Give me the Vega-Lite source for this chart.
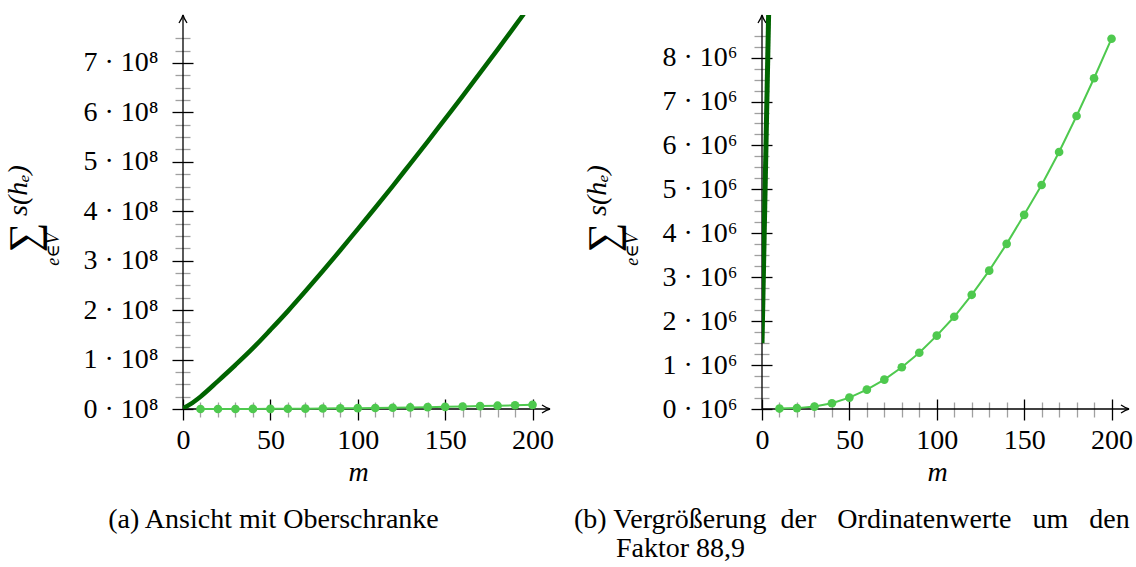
{
  "$schema": "https://vega.github.io/schema/vega-lite/v6.json",
  "background": "white",
  "padding": {"left": 3, "top": 12, "right": 0, "bottom": 0},
  "spacing": 212,
  "bounds": "flush",
  "config": {
    "view": {"stroke": null},
    "font": "Liberation Serif, Times New Roman, DejaVu Serif, serif",
    "axis": {"labelFont": "Liberation Serif, Times New Roman, DejaVu Serif, serif", "titleFont": "Liberation Serif, Times New Roman, DejaVu Serif, serif", "labelColor": "black", "titleColor": "black", "titleFontWeight": "normal", "grid": false, "domain": false, "labelFlush": false, "labelOverlap": false, "labelFontSize": 28},
    "title": {"font": "Liberation Serif, Times New Roman, DejaVu Serif, serif", "fontSize": 28, "fontWeight": "normal", "color": "black"}
  },
  "datasets": {
    "one": [{}],
    "upper": [
      {"m": 0, "v": 1500000}, {"m": 4, "v": 9400000}, {"m": 10, "v": 25000000}, {"m": 20, "v": 56500000},
      {"m": 30, "v": 89000000}, {"m": 40, "v": 123000000}, {"m": 50, "v": 160000000}, {"m": 60, "v": 198000000},
      {"m": 70, "v": 238000000}, {"m": 80, "v": 279000000}, {"m": 90, "v": 321000000}, {"m": 100, "v": 364000000},
      {"m": 110, "v": 407000000}, {"m": 120, "v": 451000000}, {"m": 130, "v": 496000000}, {"m": 140, "v": 541000000},
      {"m": 150, "v": 587000000}, {"m": 160, "v": 633000000}, {"m": 170, "v": 680000000}, {"m": 180, "v": 727000000},
      {"m": 190, "v": 775000000}, {"m": 195, "v": 799000000}
    ],
    "lower": [
      {"m": 10, "v": 10000}, {"m": 20, "v": 20000}, {"m": 30, "v": 55000}, {"m": 40, "v": 130000},
      {"m": 50, "v": 260000}, {"m": 60, "v": 440000}, {"m": 70, "v": 670000}, {"m": 80, "v": 950000},
      {"m": 90, "v": 1280000}, {"m": 100, "v": 1670000}, {"m": 110, "v": 2100000}, {"m": 120, "v": 2600000},
      {"m": 130, "v": 3150000}, {"m": 140, "v": 3760000}, {"m": 150, "v": 4420000}, {"m": 160, "v": 5100000},
      {"m": 170, "v": 5850000}, {"m": 180, "v": 6670000}, {"m": 190, "v": 7530000}, {"m": 200, "v": 8430000}
    ]
  },
  "hconcat": [
    {
      "width": 367, "height": 394,
      "title": {"text": "(a) Ansicht mit Oberschranke", "fontSize": 28, "fontWeight": "normal", "orient": "bottom", "anchor": "middle", "frame": "group", "dx": -93, "offset": 20},
      "resolve": {"axis": {"x": "independent", "y": "independent"}},
      "layer": [
        {"data": {"name": "one"}, "mark": {"type": "rule", "color": "black", "strokeWidth": 1.3},
         "encoding": {"y": {"datum": 0, "type": "quantitative", "scale": {"domain": [0, 797000000]}, "axis": null}}},
        {"data": {"name": "one"}, "mark": {"type": "rule", "color": "black", "strokeWidth": 1.3},
         "encoding": {"x": {"datum": 0, "type": "quantitative", "scale": {"domain": [0, 210]}, "axis": null}}},
        {"data": {"name": "one"}, "mark": {"type": "point", "shape": "M-1.6,-0.8 Q-0.6,-0.15 0,0 Q-0.6,0.15 -1.6,0.8", "filled": false, "stroke": "black", "strokeWidth": 1.3, "size": 100, "opacity": 1},
         "encoding": {"x": {"datum": 210, "type": "quantitative", "scale": {"domain": [0, 210]}, "axis": null}, "y": {"datum": 0, "type": "quantitative", "scale": {"domain": [0, 797000000]}, "axis": null}}},
        {"data": {"name": "one"}, "mark": {"type": "point", "shape": "M-0.8,1.6 Q-0.15,0.6 0,0 Q0.15,0.6 0.8,1.6", "filled": false, "stroke": "black", "strokeWidth": 1.3, "size": 100, "opacity": 1},
         "encoding": {"x": {"datum": 0, "type": "quantitative", "scale": {"domain": [0, 210]}, "axis": null}, "y": {"datum": 797000000, "type": "quantitative", "scale": {"domain": [0, 797000000]}, "axis": null}}},
        {"data": {"name": "upper"}, "mark": {"type": "line", "color": "#006400", "strokeWidth": 4.5, "clip": true, "interpolate": "monotone"},
         "encoding": {
           "x": {"field": "m", "type": "quantitative", "scale": {"domain": [0, 210]},
                 "axis": {"orient": "bottom", "offset": -10, "values": [0, 50, 100, 150, 200], "tickSize": 21, "tickWidth": 1.3, "tickColor": "black", "labelPadding": 6, "title": "m", "titleFontSize": 28, "titleFontStyle": "italic", "titleFontWeight": "normal", "titleX": 175, "titleY": 81, "titleBaseline": "alphabetic", "titleAlign": "center"}},
           "y": {"field": "v", "type": "quantitative", "scale": {"domain": [0, 797000000]},
                 "axis": {"orient": "left", "offset": -10, "values": [0, 100000000, 200000000, 300000000, 400000000, 500000000, 600000000, 700000000], "tickSize": 21, "tickWidth": 1.3, "tickColor": "black", "labelPadding": 14, "labelExpr": "datum.value / 1e8 + ' · 10⁸'", "title": "s(hₑ)", "titleFontSize": 28, "titleFontStyle": "italic", "titleFontWeight": "normal", "titleX": -175, "titleY": 175, "titleBaseline": "middle", "titleAlign": "center", "titleAngle": 270}}
         }},
        {"data": {"name": "lower"}, "mark": {"type": "line", "color": "#4ec94e", "strokeWidth": 2},
         "encoding": {
           "x": {"field": "m", "type": "quantitative", "scale": {"domain": [0, 210]},
                 "axis": {"orient": "bottom", "offset": -7, "values": [10, 20, 30, 40, 60, 70, 80, 90, 110, 120, 130, 140, 160, 170, 180, 190], "tickSize": 15, "tickWidth": 1.3, "tickColor": "#a0a0a0", "labels": false, "title": null}},
           "y": {"field": "v", "type": "quantitative", "scale": {"domain": [0, 797000000]},
                 "axis": {"orient": "left", "offset": -7, "values": [25000000, 50000000, 75000000, 125000000, 150000000, 175000000, 225000000, 250000000, 275000000, 325000000, 350000000, 375000000, 425000000, 450000000, 475000000, 525000000, 550000000, 575000000, 625000000, 650000000, 675000000, 725000000, 750000000], "tickSize": 15, "tickWidth": 1.3, "tickColor": "#a0a0a0", "labels": false, "title": "e∈V", "titleFontSize": 18, "titleFontStyle": "italic", "titleFontWeight": "normal", "titleX": -137, "titleY": 234, "titleBaseline": "middle", "titleAlign": "center", "titleAngle": 270}}
         }},
        {"data": {"name": "lower"}, "mark": {"type": "point", "filled": true, "color": "#4ec94e", "size": 75, "opacity": 1},
         "encoding": {
           "x": {"field": "m", "type": "quantitative", "scale": {"domain": [0, 210]}, "axis": null},
           "y": {"field": "v", "type": "quantitative", "scale": {"domain": [0, 797000000]},
                 "axis": {"orient": "left", "ticks": false, "labels": false, "title": "∑", "titleFontSize": 42, "titleFontWeight": "normal", "titleX": -159, "titleY": 222, "titleBaseline": "middle", "titleAlign": "center", "titleAngle": 270}}
         }}
      ]
    },
    {
      "width": 367, "height": 394,
      "title": {"text": ["(b) Vergrößerung\u00a0 der\u00a0\u00a0 Ordinatenwerte\u00a0\u00a0 um\u00a0\u00a0 den", "\u200b\u2003\u2002Faktor 88,9"], "fontSize": 28, "fontWeight": "normal", "orient": "bottom", "anchor": "start", "frame": "group", "dx": -188, "offset": 20, "lineHeight": 29},
      "resolve": {"axis": {"x": "independent", "y": "independent"}},
      "layer": [
        {"data": {"name": "one"}, "mark": {"type": "rule", "color": "black", "strokeWidth": 1.3},
         "encoding": {"y": {"datum": 0, "type": "quantitative", "scale": {"domain": [0, 8970000]}, "axis": null}}},
        {"data": {"name": "one"}, "mark": {"type": "rule", "color": "black", "strokeWidth": 1.3},
         "encoding": {"x": {"datum": 0, "type": "quantitative", "scale": {"domain": [0, 210]}, "axis": null}}},
        {"data": {"name": "one"}, "mark": {"type": "point", "shape": "M-1.6,-0.8 Q-0.6,-0.15 0,0 Q-0.6,0.15 -1.6,0.8", "filled": false, "stroke": "black", "strokeWidth": 1.3, "size": 100, "opacity": 1},
         "encoding": {"x": {"datum": 210, "type": "quantitative", "scale": {"domain": [0, 210]}, "axis": null}, "y": {"datum": 0, "type": "quantitative", "scale": {"domain": [0, 8970000]}, "axis": null}}},
        {"data": {"name": "one"}, "mark": {"type": "point", "shape": "M-0.8,1.6 Q-0.15,0.6 0,0 Q0.15,0.6 0.8,1.6", "filled": false, "stroke": "black", "strokeWidth": 1.3, "size": 100, "opacity": 1},
         "encoding": {"x": {"datum": 0, "type": "quantitative", "scale": {"domain": [0, 210]}, "axis": null}, "y": {"datum": 8970000, "type": "quantitative", "scale": {"domain": [0, 8970000]}, "axis": null}}},
        {"data": {"name": "upper"}, "transform": [{"filter": "datum.m <= 4"}], "mark": {"type": "line", "color": "#006400", "strokeWidth": 5, "clip": true},
         "encoding": {
           "x": {"field": "m", "type": "quantitative", "scale": {"domain": [0, 210]},
                 "axis": {"orient": "bottom", "offset": -10, "values": [0, 50, 100, 150, 200], "tickSize": 21, "tickWidth": 1.3, "tickColor": "black", "labelPadding": 6, "title": "m", "titleFontSize": 28, "titleFontStyle": "italic", "titleFontWeight": "normal", "titleX": 175, "titleY": 81, "titleBaseline": "alphabetic", "titleAlign": "center"}},
           "y": {"field": "v", "type": "quantitative", "scale": {"domain": [0, 8970000]},
                 "axis": {"orient": "left", "offset": -10, "values": [0, 1000000, 2000000, 3000000, 4000000, 5000000, 6000000, 7000000, 8000000], "tickSize": 21, "tickWidth": 1.3, "tickColor": "black", "labelPadding": 14, "labelExpr": "datum.value / 1e6 + ' · 10⁶'", "title": "s(hₑ)", "titleFontSize": 28, "titleFontStyle": "italic", "titleFontWeight": "normal", "titleX": -175, "titleY": 175, "titleBaseline": "middle", "titleAlign": "center", "titleAngle": 270}}
         }},
        {"data": {"name": "lower"}, "mark": {"type": "line", "color": "#4ec94e", "strokeWidth": 2},
         "encoding": {
           "x": {"field": "m", "type": "quantitative", "scale": {"domain": [0, 210]},
                 "axis": {"orient": "bottom", "offset": -7, "values": [10, 20, 30, 40, 60, 70, 80, 90, 110, 120, 130, 140, 160, 170, 180, 190], "tickSize": 15, "tickWidth": 1.3, "tickColor": "#a0a0a0", "labels": false, "title": null}},
           "y": {"field": "v", "type": "quantitative", "scale": {"domain": [0, 8970000]},
                 "axis": {"orient": "left", "offset": -7, "values": [250000, 500000, 750000, 1250000, 1500000, 1750000, 2250000, 2500000, 2750000, 3250000, 3500000, 3750000, 4250000, 4500000, 4750000, 5250000, 5500000, 5750000, 6250000, 6500000, 6750000, 7250000, 7500000, 7750000, 8250000, 8500000], "tickSize": 15, "tickWidth": 1.3, "tickColor": "#a0a0a0", "labels": false, "title": "e∈V", "titleFontSize": 18, "titleFontStyle": "italic", "titleFontWeight": "normal", "titleX": -137, "titleY": 234, "titleBaseline": "middle", "titleAlign": "center", "titleAngle": 270}}
         }},
        {"data": {"name": "lower"}, "mark": {"type": "point", "filled": true, "color": "#4ec94e", "size": 75, "opacity": 1},
         "encoding": {
           "x": {"field": "m", "type": "quantitative", "scale": {"domain": [0, 210]}, "axis": null},
           "y": {"field": "v", "type": "quantitative", "scale": {"domain": [0, 8970000]},
                 "axis": {"orient": "left", "ticks": false, "labels": false, "title": "∑", "titleFontSize": 42, "titleFontWeight": "normal", "titleX": -159, "titleY": 222, "titleBaseline": "middle", "titleAlign": "center", "titleAngle": 270}}
         }}
      ]
    }
  ]
}
